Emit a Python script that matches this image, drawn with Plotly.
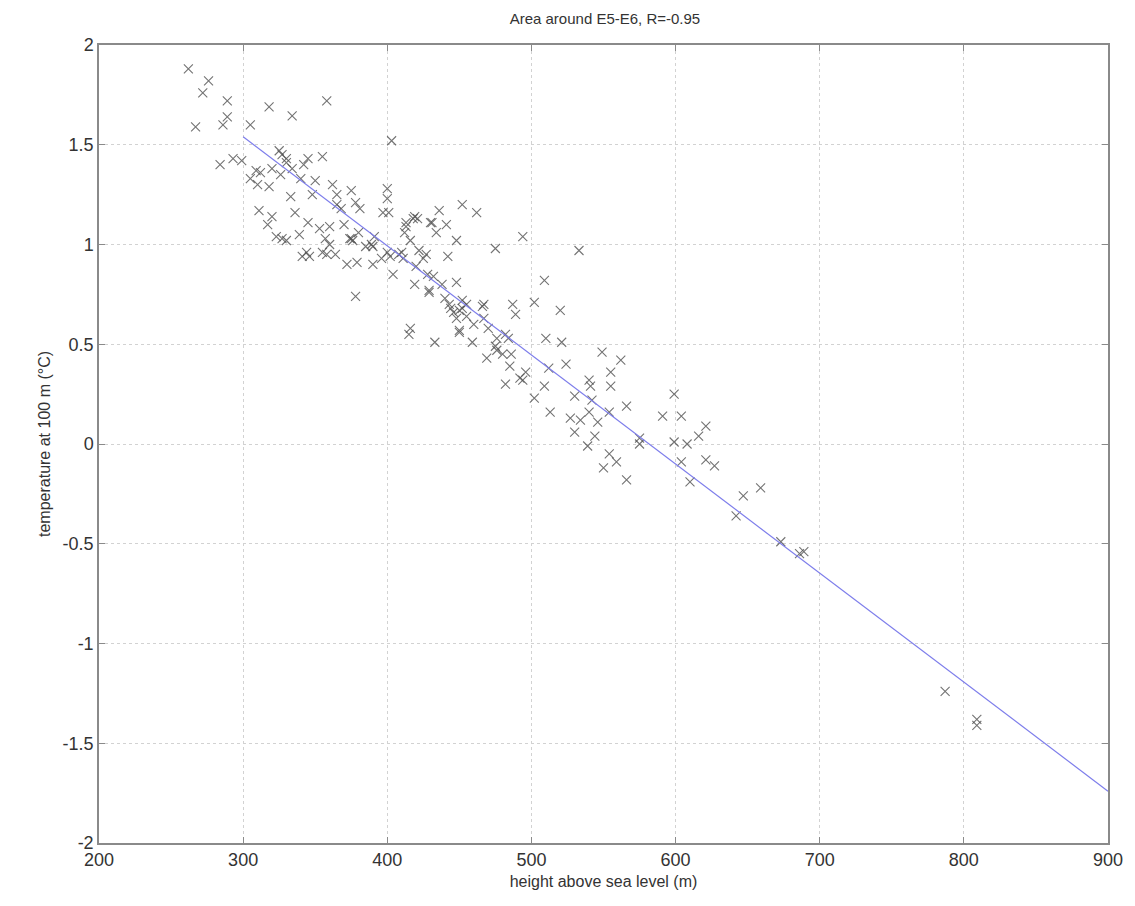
import numpy as np
import plotly.graph_objects as go

# Scatter data: height above sea level (m) and temperature at 100 m (°C)
height = [
    262, 267, 272, 276, 284, 286, 289, 289, 293, 299,
    305, 305, 309, 312, 311, 318, 317, 320, 325, 327,
    326, 327, 334, 334, 333, 336, 339, 345, 345, 344,
    355, 353, 355, 358, 357, 360, 362, 365, 375, 378,
    375, 376, 372, 379, 378, 389, 391, 390, 390, 397,
    400, 400, 403, 404, 410, 413, 413, 419, 420, 419,
    416, 415, 427, 428, 429, 429, 430, 431, 434, 433,
    436, 441, 442, 443, 448, 448, 450, 450, 450, 452,
    452, 455, 459, 462, 466, 467, 467, 469, 475, 475,
    476, 482, 482, 485, 487, 489, 494, 494, 496, 502,
    502, 509, 510, 509, 512, 513, 520, 521, 524, 527,
    530, 530, 533, 534, 539, 540, 541, 542, 540, 544,
    546, 549, 550, 554, 554, 555, 555, 559, 562, 566,
    566, 575, 575, 591, 599, 599, 604, 604, 608, 610,
    616, 621, 621, 627, 642, 647, 659, 673, 686, 689,
    787, 809, 809,
    310, 318, 320, 330, 330, 340, 342, 348, 350, 346,
    358, 360, 365, 368, 370, 374, 381, 380, 385, 396,
    402, 408, 411, 418, 421, 425, 432, 438, 440, 444,
    446, 452, 448, 455, 460, 470, 476, 484, 486, 480,
    492, 400, 401, 412, 416, 422, 330, 323, 341, 364,
]
temperature = [
    1.88, 1.59, 1.76, 1.82, 1.40, 1.60, 1.72, 1.64, 1.43, 1.42,
    1.60, 1.33, 1.37, 1.36, 1.17, 1.69, 1.10, 1.14, 1.47, 1.45,
    1.35, 1.03, 1.645, 1.38, 1.24, 1.16, 1.05, 1.43, 1.11, 0.96,
    1.44, 1.08, 0.96, 1.72, 1.03, 1.09, 1.30, 1.20, 1.27, 1.21,
    1.03, 1.02, 0.90, 0.91, 0.74, 1.00, 1.04, 0.90, 0.99, 1.16,
    1.28, 0.96, 1.52, 0.85, 0.96, 1.11, 1.09, 1.14, 0.89, 0.80,
    0.58, 0.55, 0.95, 0.85, 0.77, 0.76, 1.11, 1.11, 1.06, 0.51,
    1.17, 1.10, 0.94, 0.70, 1.02, 0.81, 0.67, 0.56, 0.57, 1.20,
    0.72, 0.64, 0.51, 1.16, 0.69, 0.63, 0.70, 0.43, 0.98, 0.49,
    0.47, 0.55, 0.30, 0.39, 0.70, 0.65, 1.04, 0.32, 0.36, 0.71,
    0.23, 0.82, 0.53, 0.29, 0.38, 0.16, 0.67, 0.51, 0.40, 0.13,
    0.24, 0.06, 0.97, 0.12, -0.01, 0.32, 0.29, 0.22, 0.16, 0.04,
    0.11, 0.46, -0.12, 0.16, -0.05, 0.36, 0.29, -0.09, 0.42, 0.19,
    -0.18, 0.03, 0.00, 0.14, 0.25, 0.01, 0.14, -0.09, 0.00, -0.19,
    0.04, 0.09, -0.08, -0.11, -0.36, -0.26, -0.22, -0.49, -0.55, -0.54,
    -1.24, -1.38, -1.41,
    1.30, 1.29, 1.38, 1.43, 1.41, 1.33, 1.40, 1.25, 1.32, 0.94,
    0.95, 1.00, 1.25, 1.18, 1.10, 1.03, 1.18, 1.06, 0.99, 0.93,
    0.94, 0.95, 0.93, 1.13, 1.13, 0.93, 0.84, 0.80, 0.73, 0.68,
    0.66, 0.68, 0.63, 0.70, 0.60, 0.58, 0.53, 0.53, 0.45, 0.45,
    0.33, 1.23, 1.16, 1.06, 1.02, 0.97, 1.02, 1.04, 0.94, 0.95,
]

# Regression line as drawn in the chart
fit_slope = -0.005467
fit_intercept = 3.18
fit_x_range = [300, 900]

x_ticks = [200, 300, 400, 500, 600, 700, 800, 900]
x_tick_labels = ["200", "300", "400", "500", "600", "700", "800", "900"]
y_ticks = [-2, -1.5, -1, -0.5, 0, 0.5, 1, 1.5, 2]
y_tick_labels = ["-2", "-1.5", "-1", "-0.5", "0", "0.5", "1", "1.5", "2"]

fit_x = np.array(fit_x_range, dtype=float)
fit_y = fit_slope * fit_x + fit_intercept

font_family = "Liberation Sans, Arial, sans-serif"

fig = go.Figure()
fig.add_trace(go.Scatter(
    x=height, y=temperature, mode="markers",
    marker=dict(symbol="x-thin", size=9,
                line=dict(width=1.1, color="rgba(80,80,80,0.8)"),
                color="rgba(80,80,80,0.8)"),
    showlegend=False,
))
fig.add_trace(go.Scatter(
    x=fit_x, y=fit_y, mode="lines",
    line=dict(color="rgb(125,125,235)", width=1.2),
    showlegend=False,
))

axis_common = dict(
    showline=True, linecolor="#8a8a8a", linewidth=1.5, mirror="ticks",
    ticks="inside", ticklen=6, tickcolor="#8a8a8a",
    showgrid=True, gridcolor="#d2d2d2", griddash="dot", gridwidth=1,
    zeroline=False,
    tickfont=dict(family=font_family, size=18, color="#333333"),
)

fig.update_layout(
    width=1135, height=906,
    margin=dict(l=99, r=24, t=45, b=63),
    paper_bgcolor="white", plot_bgcolor="white",
    title=dict(text="Area around E5-E6, R=-0.95", x=0.533, xanchor="center",
               y=0.985, yanchor="top",
               font=dict(family=font_family, size=15, color="#333333")),
    xaxis=dict(range=[200, 900], tickvals=x_ticks, ticktext=x_tick_labels,
               title=dict(text="height above sea level (m)", standoff=6,
                          font=dict(family=font_family, size=16, color="#333333")),
               **axis_common),
    yaxis=dict(range=[-2, 2], tickvals=y_ticks, ticktext=y_tick_labels,
               title=dict(text="temperature at 100 m (°C)", standoff=8,
                          font=dict(family=font_family, size=16, color="#333333")),
               **axis_common),
)

fig.write_html("out.html")
